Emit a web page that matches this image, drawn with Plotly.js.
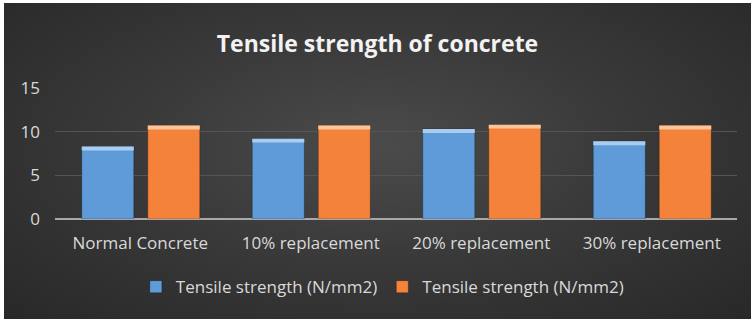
<!DOCTYPE html>
<html>
<head>
<meta charset="utf-8">
<script src="https://cdn.plot.ly/plotly-3.0.1.min.js"></script>
<style>
  html, body { margin: 0; padding: 0; background: #ffffff; width: 752px; height: 321px; overflow: hidden; }
  #chart {
    position: absolute; left: 4px; top: 3px; width: 747px; height: 316px;
    background: radial-gradient(ellipse at 50% 45%, #4b4b4b 0%, #3a3a3a 45%, #282828 100%);
  }
</style>
</head>
<body>
<div id="chart"></div>
<script>
// ---- data ----
const categories = ["Normal Concrete", "10% replacement", "20% replacement", "30% replacement"];
const seriesNames = ["Tensile strength (N/mm2)", "Tensile strength (N/mm2)"];
const series1 = [8.3, 9.2, 10.3, 8.9];
const series2 = [10.7, 10.7, 10.8, 10.7];
const yTicks = [0, 5, 10, 15];

// ---- styling ----
const FONT = "'Open Sans', sans-serif";
const blue = "#5e9bd8";
const orange = "#f4823a";
const blueTop = "#a9cdf0";
const orangeTop = "#fbc49a";
const barW = 0.305;
const offs = [-0.343, 0.044];
const bevel = 0.45;

function mainTrace(vals, name, color, off) {
  return {
    type: "bar", x: categories, y: vals, name: name,
    width: barW, offset: off,
    marker: { color: color, line: { color: "rgba(0,0,0,0.25)", width: 1 } },
    hoverinfo: "skip"
  };
}
function bevelTrace(vals, color, off) {
  return {
    type: "bar", x: categories, y: vals.map(() => bevel), base: vals.map(v => v - bevel),
    width: barW, offset: off, showlegend: false,
    marker: { color: color, line: { width: 0 } },
    hoverinfo: "skip"
  };
}

const data = [
  mainTrace(series1, seriesNames[0], blue, offs[0]),
  mainTrace(series2, seriesNames[1], orange, offs[1]),
  bevelTrace(series1, blueTop, offs[0]),
  bevelTrace(series2, orangeTop, offs[1])
];

const layout = {
  width: 747, height: 316,
  paper_bgcolor: "rgba(0,0,0,0)",
  plot_bgcolor: "rgba(0,0,0,0)",
  barmode: "overlay",
  margin: { l: 51, r: 14, t: 85, b: 100 },
  title: {
    text: "<b>Tensile strength of concrete</b>",
    font: { family: FONT, size: 23, color: "#f2f2f2" },
    x: 0.5, xanchor: "center", y: 0.87, yanchor: "middle"
  },
  xaxis: {
    type: "category",
    tickfont: { family: FONT, size: 17, color: "#d9d9d9" },
    ticks: "", showgrid: false, zeroline: false,
    showline: false,
    ticklabelstandoff: 12
  },
  yaxis: {
    range: [0, 15], tickvals: yTicks, ticktext: yTicks.map(String),
    tickfont: { family: FONT, size: 17, color: "#d9d9d9" },
    gridcolor: "#555555", gridwidth: 1,
    zeroline: true, zerolinecolor: "#a8a8a8", zerolinewidth: 2,
    showline: false, ticks: "",
    ticklabelstandoff: 14
  },
  legend: {
    orientation: "h", x: 0.48, xanchor: "center", y: -0.52, yanchor: "middle",
    font: { family: FONT, size: 17, color: "#d9d9d9" },
    bgcolor: "rgba(0,0,0,0)", itemwidth: 30, traceorder: "normal"
  },
  showlegend: true
};

Plotly.newPlot("chart", data, layout, { staticPlot: true, displayModeBar: false });
</script>
</body>
</html>
